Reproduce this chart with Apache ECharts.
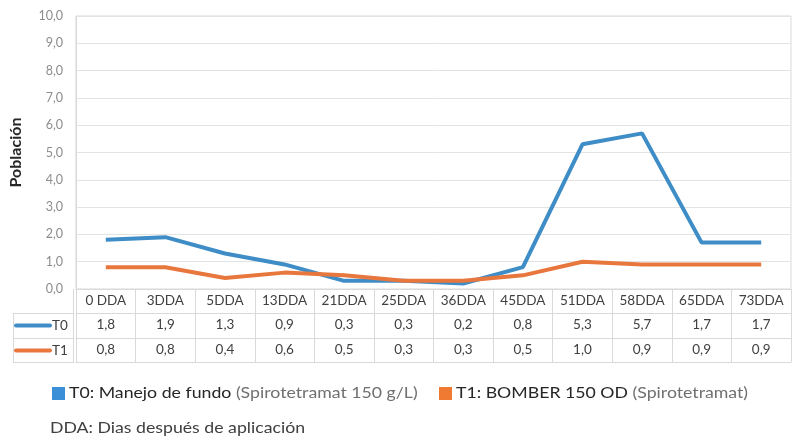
<!DOCTYPE html>
<html><head><meta charset="utf-8">
<script src="https://cdn.jsdelivr.net/npm/echarts@6/dist/echarts.min.js"></script>
<style>html,body{margin:0;padding:0;background:#fff}#c{width:801px;height:446px}</style>
</head><body><div id="c"></div>
<script>
const categories = ['0 DDA','3DDA','5DDA','13DDA','21DDA','25DDA','36DDA','45DDA','51DDA','58DDA','65DDA','73DDA'];
const t0Values = [1.8,1.9,1.3,0.9,0.3,0.3,0.2,0.8,5.3,5.7,1.7,1.7];
const t1Values = [0.8,0.8,0.4,0.6,0.5,0.3,0.3,0.5,1.0,0.9,0.9,0.9];
const seriesNames = ['T0','T1'];
const legendMain = ['T0: Manejo de fundo ', 'T1: BOMBER 150 OD '];
const legendSub = ['(Spirotetramat 150 g/L)', '(Spirotetramat)'];
const footnote = 'DDA: Dias después de aplicación';
const fmt = v => v.toFixed(1).replace('.', ',');

const BLUE = '#3f8dc6', ORANGE = '#e8773e', GRIDC = '#d9d9d9', TXT = '#404040';
const LEG_BLUE = '#3a8fd6', LEG_ORANGE = '#f07a32';
const FONT = 'Lato';
const SX = 1.18;
const chart = echarts.init(document.getElementById('c'), null, {renderer:'canvas'});

function tableAxis(data, offset, showLabel) {
  return {
    type: 'category', data: data, position: 'bottom', offset: offset,
    boundaryGap: true,
    axisLine: {show: true, lineStyle: {color: GRIDC, width: 1}},
    axisTick: {show: false},
    axisLabel: {show: showLabel, color: TXT, fontFamily: FONT, fontSize: 13.5, margin: 5, interval: 0},
    splitLine: {show: false}
  };
}

function legendItem(i, x, color) {
  return {
    type: 'group', silent: true,
    children: [
      {type: 'rect', shape: {x: x, y: 387, width: 13, height: 13}, style: {fill: color}},
      {type: 'text', x: x + 17, y: 393.5, scaleX: SX,
       style: {
         text: '{a|' + legendMain[i] + '}{b|' + legendSub[i] + '}',
         x: 0, y: 0, verticalAlign: 'middle', align: 'left',
         rich: {
           a: {fill: '#262626', fontFamily: FONT, fontSize: 15},
           b: {fill: '#707070', fontFamily: FONT, fontSize: 15}
         }
       }}
    ]
  };
}

chart.setOption({
  animation: false,
  textStyle: {fontFamily: FONT},
  grid: {left: 73, right: 10, top: 16, bottom: 157, show: true, borderColor: GRIDC, borderWidth: 1},
  xAxis: [
    {
      type: 'category', data: categories, position: 'bottom', boundaryGap: true,
      axisLine: {show: true, lineStyle: {color: GRIDC}},
      axisTick: {show: true, length: 73, lineStyle: {color: GRIDC}, interval: 0},
      axisLabel: {color: TXT, fontFamily: FONT, fontSize: 13.5, margin: 5, interval: 0},
      splitLine: {show: false}
    },
    tableAxis(t0Values.map(fmt), 24, true),
    tableAxis(t1Values.map(fmt), 49, true),
    tableAxis(categories, 73, false)
  ],
  yAxis: {
    type: 'value', min: 0, max: 10, interval: 1,
    name: 'Población', nameLocation: 'middle', nameGap: 52, nameRotate: 90,
    nameTextStyle: {color: '#262626', fontFamily: FONT, fontSize: 16, fontWeight: 'bold'},
    axisLine: {show: true, lineStyle: {color: GRIDC}},
    axisTick: {show: false},
    axisLabel: {color: '#8c8c8c', fontFamily: FONT, fontSize: 12.5, margin: 13, formatter: v => fmt(v)},
    splitLine: {show: true, lineStyle: {color: '#e3e3e3', width: 1}}
  },
  graphic: [
    {type: 'line', shape: {x1: 13, y1: 313.5, x2: 73, y2: 313.5}, style: {stroke: GRIDC, lineWidth: 1}, silent: true},
    {type: 'line', shape: {x1: 13, y1: 338.5, x2: 73, y2: 338.5}, style: {stroke: GRIDC, lineWidth: 1}, silent: true},
    {type: 'line', shape: {x1: 13, y1: 362.5, x2: 73, y2: 362.5}, style: {stroke: GRIDC, lineWidth: 1}, silent: true},
    {type: 'line', shape: {x1: 13.5, y1: 313, x2: 13.5, y2: 363}, style: {stroke: GRIDC, lineWidth: 1}, silent: true},
    {type: 'line', shape: {x1: 73.5, y1: 289, x2: 73.5, y2: 363}, style: {stroke: GRIDC, lineWidth: 1}, silent: true},
    {type: 'line', shape: {x1: 16, y1: 325.5, x2: 50, y2: 325.5}, style: {stroke: BLUE, lineWidth: 4, lineCap: 'round'}, silent: true},
    {type: 'line', shape: {x1: 16, y1: 350.5, x2: 50, y2: 350.5}, style: {stroke: ORANGE, lineWidth: 4, lineCap: 'round'}, silent: true},
    {type: 'text', x: 52, y: 326, style: {text: seriesNames[0], fill: TXT, font: '13.5px Lato', verticalAlign: 'middle'}, silent: true},
    {type: 'text', x: 52, y: 351, style: {text: seriesNames[1], fill: TXT, font: '13.5px Lato', verticalAlign: 'middle'}, silent: true},
    legendItem(0, 52, LEG_BLUE),
    legendItem(1, 439, LEG_ORANGE),
    {type: 'text', x: 50, y: 428, scaleX: SX, style: {text: footnote, fill: '#404040', font: '15px Lato', verticalAlign: 'middle'}, silent: true}
  ],
  series: [
    {name: seriesNames[0], type: 'line', data: t0Values, xAxisIndex: 0, symbol: 'none', lineStyle: {color: BLUE, width: 4}, itemStyle: {color: BLUE}},
    {name: seriesNames[1], type: 'line', data: t1Values, xAxisIndex: 0, symbol: 'none', lineStyle: {color: ORANGE, width: 4}, itemStyle: {color: ORANGE}}
  ]
});
</script></body></html>
